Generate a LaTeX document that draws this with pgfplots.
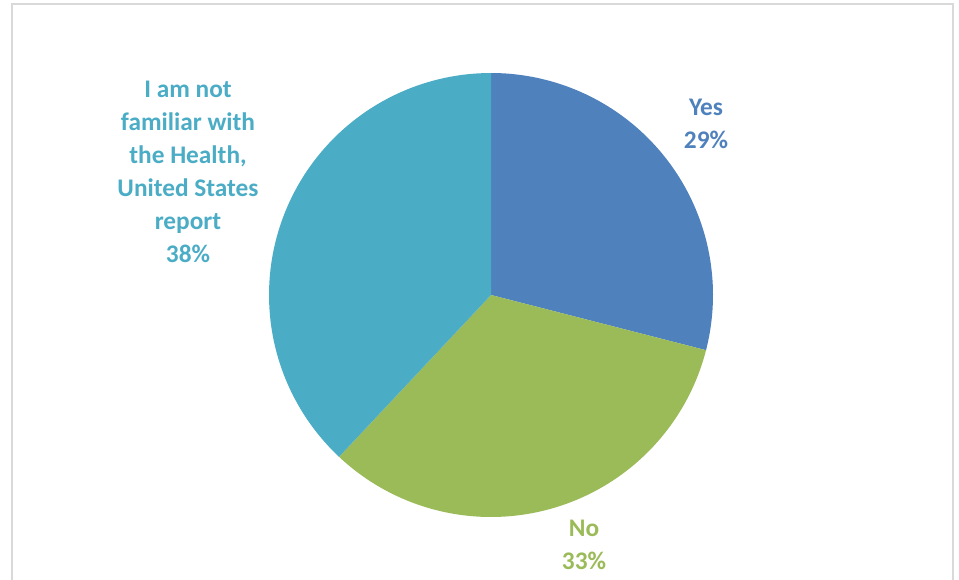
\documentclass[border=0pt]{standalone}
\usepackage{pgfplots}
\pgfplotsset{compat=1.18}
\usepackage{fontspec}
\setmainfont{Carlito}
\definecolor{cyes}{HTML}{4F81BD}
\definecolor{cno}{HTML}{9BBB59}
\definecolor{cfam}{HTML}{4BACC6}
\definecolor{frame}{HTML}{D9D9D9}
% shares (percent): Yes, No, not familiar
\def\vYes{29}
\def\vNo{33}
\def\vFam{38}
\begin{document}
\begin{tikzpicture}
\begin{axis}[
  hide axis, scale only axis,
  width=719.25pt, height=434.25pt,
  xmin=0, xmax=959, ymin=0, ymax=579,
  clip=false, anchor=south west, at={(0,0)},
]
\pgfmathsetmacro{\aA}{90}
\pgfmathsetmacro{\aB}{90-3.6*\vYes}
\pgfmathsetmacro{\aC}{\aB-3.6*\vNo}
\pgfmathsetmacro{\aD}{\aC-3.6*\vFam}
\draw[frame, line width=1.5pt] (axis cs:12,-5) -- (axis cs:12,575) -- (axis cs:953,575) -- (axis cs:953,-5);
\addplot[draw=none, fill=cyes, domain=\aB:\aA, samples=80] ({491+222*cos(x)},{284+222*sin(x)}) -- (axis cs:491,284) -- cycle;
\addplot[draw=none, fill=cno, domain=\aC:\aB, samples=80] ({491+222*cos(x)},{284+222*sin(x)}) -- (axis cs:491,284) -- cycle;
\addplot[draw=none, fill=cfam, domain=\aD:\aC, samples=80] ({491+222*cos(x)},{284+222*sin(x)}) -- (axis cs:491,284) -- cycle;
\node[font=\fontsize{19}{24.75}\selectfont\bfseries, text=cyes, align=center] at (axis cs:706,455) {Yes\\\vYes\%};
\node[font=\fontsize{19}{24.75}\selectfont\bfseries, text=cno, align=center] at (axis cs:584,34) {No\\\vNo\%};
\node[font=\fontsize{19}{24.75}\selectfont\bfseries, text=cfam, align=center] at (axis cs:188,407) {I am not\\familiar with\\the Health,\\United States\\report\\\vFam\%};
\end{axis}
\pgfresetboundingbox
\path[use as bounding box] (0,0) rectangle (719.25pt,434.25pt);
\end{tikzpicture}
\end{document}
